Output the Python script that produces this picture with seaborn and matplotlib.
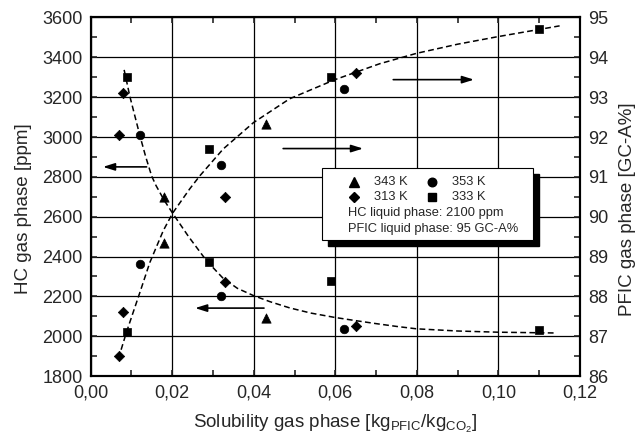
import matplotlib
matplotlib.use("Agg")
import matplotlib.pyplot as plt
from matplotlib.patches import Rectangle
from matplotlib.ticker import MultipleLocator, FuncFormatter
import seaborn as sns
import pandas as pd

# measured points (each solubility has one HC and one PFIC value)
solubility = [0.007, 0.008, 0.009, 0.012, 0.018, 0.029, 0.032, 0.033, 0.043, 0.059, 0.062, 0.065, 0.110]
temperature = ['313 K', '313 K', '333 K', '353 K', '343 K', '333 K', '353 K', '313 K', '343 K', '333 K', '353 K', '313 K', '333 K']
hc_ppm = [3010, 3220, 3300, 3010, 2700, 2370, 2200, 2270, 2090, 2275, 2035, 2050, 2030]
pfic_gca = [86.5, 87.6, 87.1, 88.8, 89.33, 91.7, 91.3, 90.5, 92.33, 93.5, 93.2, 93.6, 94.7]

# dashed trend lines
hc_trend_x = [0.0082, 0.0096, 0.0121, 0.0135, 0.01495, 0.0160, 0.0180, 0.0201, 0.0240, 0.0284,
              0.0325, 0.0360, 0.0399, 0.0440, 0.0488, 0.0540, 0.0599, 0.0650, 0.0700, 0.0750,
              0.0799, 0.0900, 0.0999, 0.1142]
hc_trend_y = [3337, 3204, 3004, 2900, 2804, 2757, 2683, 2617, 2500, 2379,
              2290, 2240, 2204, 2173, 2142, 2116, 2094, 2078, 2063, 2049,
              2037, 2026, 2020, 2016]
pfic_trend_x = [0.0068, 0.0088, 0.0121, 0.0145, 0.0178, 0.0201, 0.0243, 0.0268, 0.0325,
                0.0399, 0.0488, 0.0599, 0.0709, 0.0799, 0.0900, 0.0999, 0.1150]
pfic_trend_y = [86.44, 87.11, 88.11, 88.85, 89.65, 90.09, 90.70, 91.03, 91.70,
                92.36, 92.96, 93.44, 93.84, 94.10, 94.33, 94.52, 94.79]

markers = {'343 K': '^', '353 K': 'o', '313 K': 'D', '333 K': 's'}
sizes = {'343 K': 45, '353 K': 38, '313 K': 28, '333 K': 34}

sns.set_style('ticks')
plt.rcParams['font.family'] = ['Liberation Sans', 'DejaVu Sans']
plt.rcParams['mathtext.fontset'] = 'custom'
plt.rcParams['mathtext.rm'] = 'Liberation Sans'
plt.rcParams['mathtext.it'] = 'Liberation Sans:italic'

df = pd.DataFrame({'sol': solubility, 'T': temperature, 'hc': hc_ppm, 'pfic': pfic_gca})

fig = plt.figure(figsize=(6.37, 4.43), dpi=100)
ax = fig.add_axes([0.1424, 0.1512, 0.7681, 0.8093])
ax2 = ax.twinx()

# grid
ax.set_axisbelow(True)
ax.grid(True, color='black', linewidth=0.9)

for t in markers:
    sub = df[df['T'] == t]
    sns.scatterplot(data=sub, x='sol', y='hc', marker=markers[t], s=sizes[t],
                    color='black', edgecolor='black', linewidth=0.5, ax=ax, legend=False, zorder=3)
    sns.scatterplot(data=sub, x='sol', y='pfic', marker=markers[t], s=sizes[t],
                    color='black', edgecolor='black', linewidth=0.5, ax=ax2, legend=False, zorder=3)

sns.lineplot(x=hc_trend_x, y=hc_trend_y, ax=ax, color='black', linewidth=1.1,
             sort=False, estimator=None).lines[-1].set_dashes((3.8, 2.2))
sns.lineplot(x=pfic_trend_x, y=pfic_trend_y, ax=ax2, color='black', linewidth=1.1,
             sort=False, estimator=None).lines[-1].set_dashes((3.8, 2.2))

ax.set_xlim(0, 0.12)
ax.set_ylim(1800, 3600)
ax2.set_ylim(86, 95)

ax.xaxis.set_major_locator(MultipleLocator(0.02))
ax.xaxis.set_minor_locator(MultipleLocator(0.01))
ax.yaxis.set_major_locator(MultipleLocator(200))
ax.yaxis.set_minor_locator(MultipleLocator(100))
ax2.yaxis.set_major_locator(MultipleLocator(1))
ax2.yaxis.set_minor_locator(MultipleLocator(0.5))
ax.xaxis.set_major_formatter(FuncFormatter(lambda v, p: f'{v:.2f}'.replace('.', ',')))

ax.tick_params(axis='both', which='both', direction='in', length=4, width=1.2,
               labelsize=13, pad=6, top=True, right=False)
ax2.tick_params(axis='y', which='both', direction='in', length=4, width=1.2,
                labelsize=13, pad=6)

for a in (ax, ax2):
    for s in a.spines.values():
        s.set_linewidth(1.5)
        s.set_color('black')

ax.set_xlabel(r'Solubility gas phase [kg$_{\mathrm{PFIC}}$/kg$_{\mathrm{CO}_2}$]', fontsize=13.5, labelpad=8)
ax.set_ylabel('HC gas phase [ppm]', fontsize=13.5, va='center')
ax.yaxis.set_label_coords(-0.1364, 0.466)
ax2.set_ylabel('PFIC gas phase [GC-A%]', fontsize=13.5, va='center')
ax2.yaxis.set_label_coords(1.0965, 0.466)

# arrows pointing to the matching axis
arrow = dict(arrowstyle='-|>,head_length=0.7,head_width=0.22', color='black', lw=1.2, shrinkA=0, shrinkB=0)
ax.annotate('', xy=(0.003, 2850), xytext=(0.0137, 2850), arrowprops=arrow)
ax.annotate('', xy=(0.0256, 2141), xytext=(0.0425, 2141), arrowprops=arrow)
ax2.annotate('', xy=(0.0668, 91.71), xytext=(0.0472, 91.71), arrowprops=arrow)
ax2.annotate('', xy=(0.094, 93.44), xytext=(0.0742, 93.44), arrowprops=arrow)

# legend box with shadow
bx0, by0, bw, bh = 0.472, 0.379, 0.432, 0.201
ax2.add_patch(Rectangle((bx0 + 0.012, by0 - 0.017), bw, bh, transform=ax2.transAxes,
                        facecolor='black', edgecolor='black', zorder=5))
ax2.add_patch(Rectangle((bx0, by0), bw, bh, transform=ax2.transAxes,
                        facecolor='white', edgecolor='black', linewidth=0.8, zorder=6))
legend_rows = [('343 K', 0.538, 0.542), ('353 K', 0.697, 0.542),
               ('313 K', 0.538, 0.500), ('333 K', 0.697, 0.500)]
for t, lx, ly in legend_rows:
    ax2.plot([lx], [ly], marker=markers[t], markersize=sizes[t] ** 0.5, color='black',
             transform=ax2.transAxes, zorder=7, clip_on=False)
    ax2.text(lx + 0.041, ly, t, transform=ax2.transAxes, fontsize=9.3, va='center', zorder=7)
ax2.text(0.5265, 0.4555, 'HC liquid phase: 2100 ppm', transform=ax2.transAxes,
         fontsize=9.3, va='center', zorder=7)
ax2.text(0.5265, 0.410, 'PFIC liquid phase: 95 GC-A%', transform=ax2.transAxes,
         fontsize=9.3, va='center', zorder=7)

fig.savefig('out.png', dpi=100)
